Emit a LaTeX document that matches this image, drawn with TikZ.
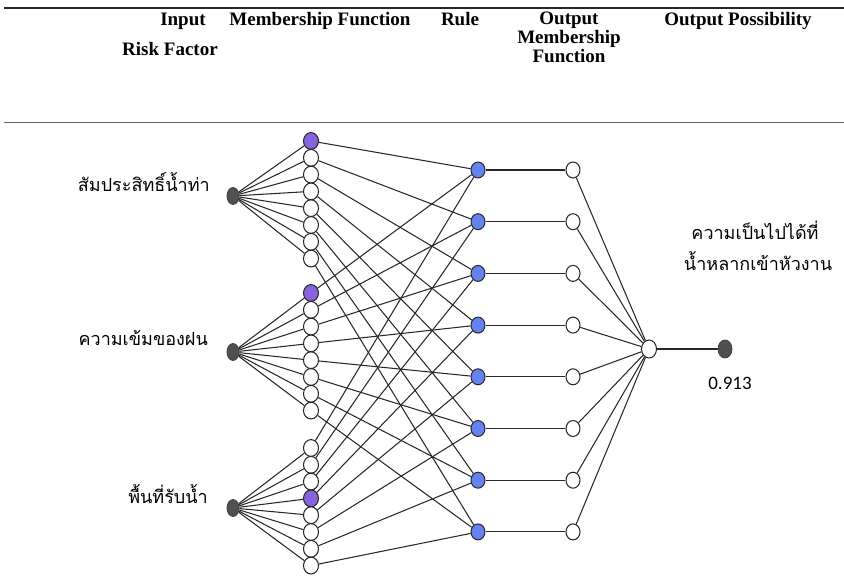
\documentclass[tikz,border=0pt]{standalone}
\usepackage{fontspec}
\setmainfont{Liberation Serif}
\newfontfamily\thaifont[Script=Thai]{Loma}
\newfontfamily\numfont{Carlito}
\usetikzlibrary{shapes.geometric,backgrounds}

\definecolor{edgegray}{RGB}{40,40,40}
\definecolor{inputgray}{RGB}{80,80,80}
\definecolor{mfpurple}{RGB}{135,100,220}
\definecolor{ruleblue}{RGB}{100,130,240}

\tikzset{
  link/.style={draw=edgegray, line width=1.05pt},
  inpnode/.style={ellipse, fill=inputgray, draw=black!75, line width=0.8pt,
    minimum width=12pt, minimum height=17pt, inner sep=0pt},
  mfnode/.style={ellipse, draw=edgegray, fill=white, line width=1.05pt,
    minimum width=15pt, minimum height=16.8pt, inner sep=0pt},
  mfsel/.style={mfnode, fill=mfpurple},
  rulenode/.style={ellipse, draw=edgegray, fill=ruleblue, line width=1pt,
    minimum width=14pt, minimum height=16pt, inner sep=0pt},
  outmf/.style={ellipse, draw=edgegray, fill=white, line width=1.05pt,
    minimum width=14pt, minimum height=16pt, inner sep=0pt},
  head/.style={font=\fontsize{19}{20}\selectfont\bfseries, anchor=base, inner sep=0pt},
  thai/.style={font=\thaifont\fontsize{18}{22}\selectfont, inner sep=0pt},
}

\begin{document}
\begin{tikzpicture}[x=1pt, y=-1pt]
  \useasboundingbox (0,0) rectangle (844,577);

  % table rules
  \draw[line width=2.4pt, black!85] (4,8) -- (844,8);
  \draw[line width=0.9pt, black!60] (4,122) -- (844,122);

  % column headings
  \node[head] (hin1) at (183,26) {Input};
  \node[head] (hin2) at (170,56) {Risk Factor};
  \node[head] (hmf)  at (320,26) {Membership Function};
  \node[head] (hrule) at (460,26) {Rule};
  \node[head] (hout1) at (569,25) {Output};
  \node[head] (hout2) at (569,44) {Membership};
  \node[head] (hout3) at (569,63) {Function};
  \node[head] (hposs) at (738,26) {Output Possibility};

  % input risk factors
  \node[inpnode] (in1) at (233,196) {};
  \node[inpnode] (in2) at (233,352) {};
  \node[inpnode] (in3) at (233,508) {};
  \node[thai, anchor=base east] (lab1) at (210,192) {สัมประสิทธิ์น้ำท่า};
  \node[thai, anchor=base east] (lab2) at (208,346) {ความเข้มของฝน};
  \node[thai, anchor=base east] (lab3) at (208,503) {พื้นที่รับน้ำ};

  % membership functions: three groups of eight
  \foreach \g/\ystart/\sel in {1/141/0, 2/293/0, 3/448/3} {
    \foreach \j in {0,...,7} {
      \ifnum\j=\sel\relax\def\mfstyle{mfsel}\else\def\mfstyle{mfnode}\fi
      \node[\mfstyle] (m\g\j) at (311,\ystart+16.8*\j) {};
    }
  }

  % rules and output membership functions
  \foreach \i in {1,...,8} {
    \node[rulenode] (r\i) at (478,170+51.7*\i-51.7) {};
    \node[outmf] (o\i) at (573,170+51.7*\i-51.7) {};
  }

  % output
  \node[outmf, minimum width=15pt, minimum height=18pt] (out) at (649,349) {};
  \node[inpnode, minimum width=14pt, minimum height=18pt] (res) at (725,349) {};
  \node[thai, anchor=base] (olab1) at (755,240) {ความเป็นไปได้ที่};
  \node[thai, anchor=base] (olab2) at (758,271) {น้ำหลากเข้าหัวงาน};
  \node[font=\numfont\fontsize{19}{20}\selectfont, anchor=base, inner sep=0pt] (val) at (730,390) {0.913};

  % connectors
  \begin{pgfonlayer}{background}
    \foreach \g in {1,2,3} {
      \foreach \j in {0,...,7} {
        \pgfmathtruncatemacro\rr{\j+1}
        \draw[link] (in\g) -- (m\g\j);
        \draw[link] (m\g\j) -- (r\rr);
      }
    }
    \foreach \i in {1,...,8} {
      \draw[link] (r\i) -- (o\i);
      \draw[link] (o\i) -- (out);
    }
    \draw[link] (out) -- (res);
  \end{pgfonlayer}
\end{tikzpicture}
\end{document}
